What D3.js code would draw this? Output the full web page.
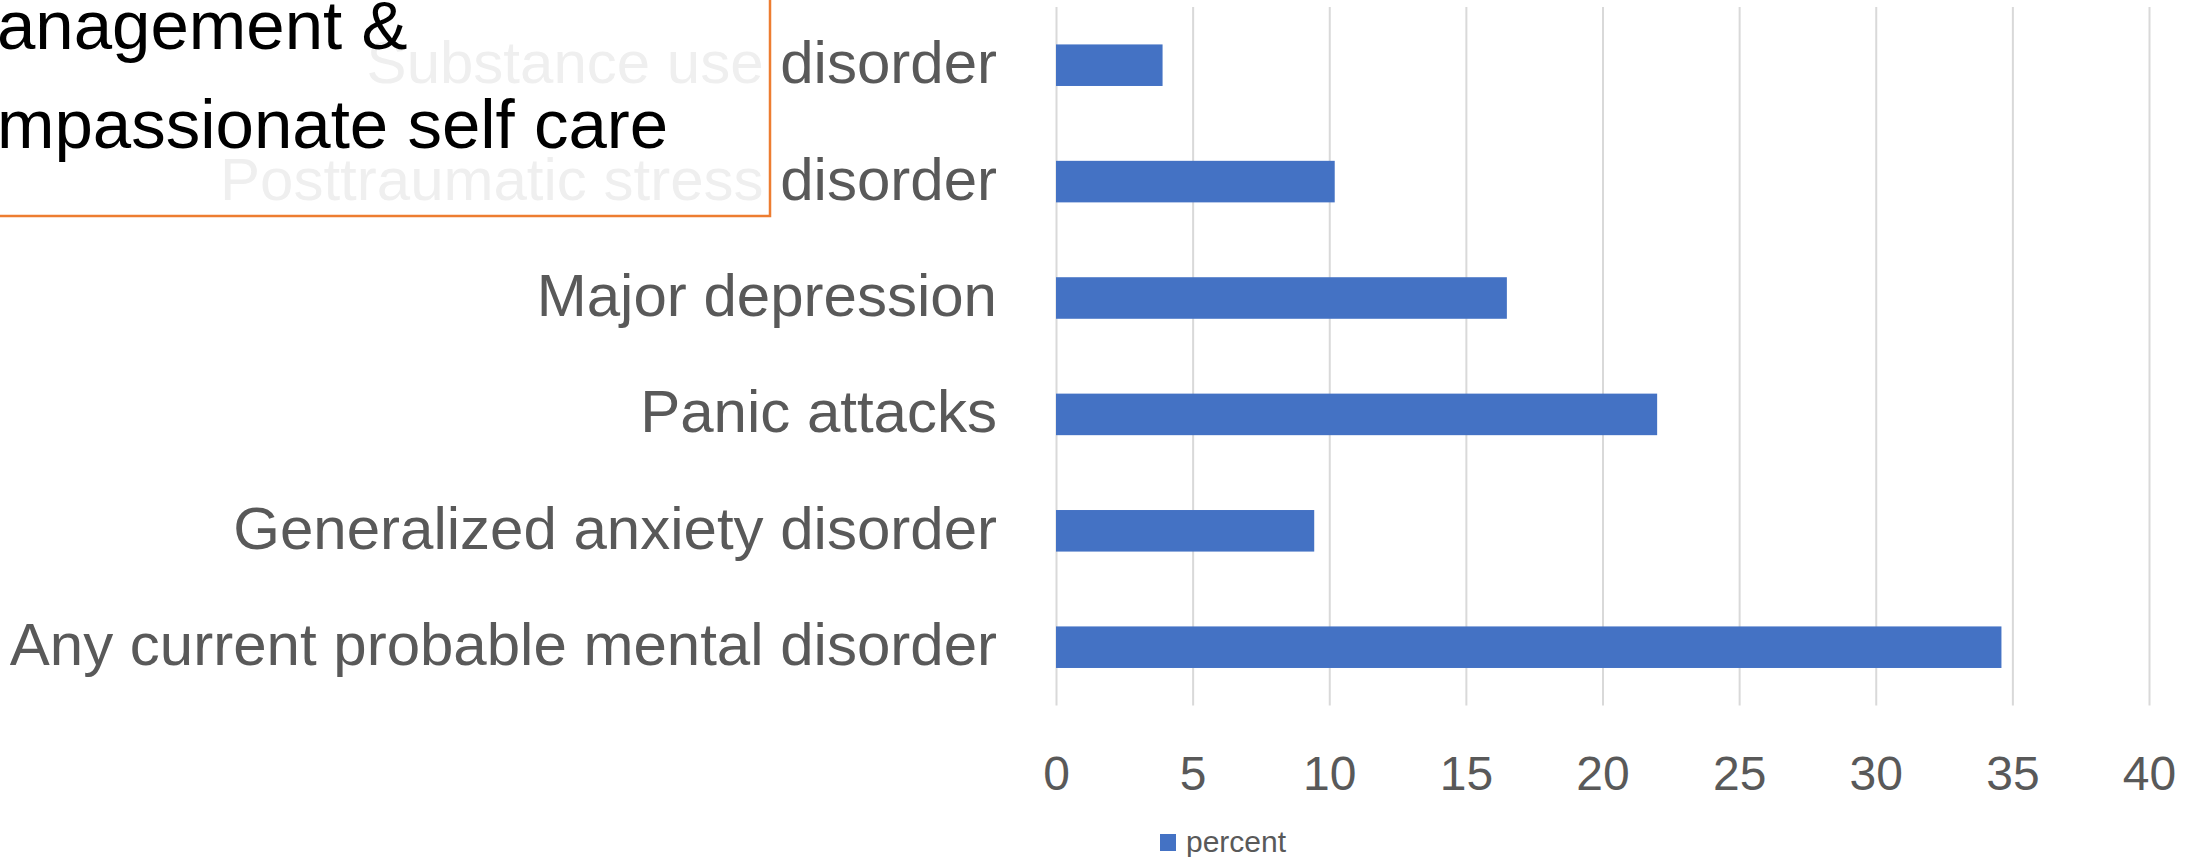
<!DOCTYPE html>
<html>
<head>
<meta charset="utf-8">
<script src="https://cdn.jsdelivr.net/npm/d3@7"></script>
<style>
  html, body { margin: 0; padding: 0; background: #fff; overflow: hidden; }
  svg { display: block; font-family: "Liberation Sans", Arial, sans-serif; }
</style>
</head>
<body>
<svg id="chart"></svg>
<script>
// data, top row first
const categories = [
    "Substance use disorder",
    "Posttraumatic stress disorder",
    "Major depression",
    "Panic attacks",
    "Generalized anxiety disorder",
    "Any current probable mental disorder"
];
const percentValues = [3.9, 10.2, 16.5, 22.0, 9.45, 34.6];
const xTicks = [0, 5, 10, 15, 20, 25, 30, 35, 40];
const seriesName = "percent";
const titleLines = ["anagement &", "mpassionate self care"];

const width = 2192;
const height = 857;
const plot = {left: 1056, right: 2149, top: 7, bottom: 705.4};

const svg = d3.select("#chart")
    .attr("width", width)
    .attr("height", height);

const x = d3.scaleLinear()
    .domain([0, 40])
    .range([plot.left, plot.right]);

const y = d3.scaleBand()
    .domain(categories)
    .range([plot.top, plot.bottom])
    .paddingInner(0.643)
    .paddingOuter(0.3215);

// vertical gridlines
svg.append("g")
    .attr("class", "grid")
    .attr("transform", `translate(0,${plot.bottom})`)
    .call(d3.axisBottom(x).tickValues(xTicks).tickSize(-(plot.bottom - plot.top)).tickFormat(""))
    .call(g => g.select(".domain").remove())
    .call(g => g.selectAll("line").attr("stroke", "#d9d9d9").attr("stroke-width", 2));

// x tick labels
svg.append("g")
    .attr("transform", `translate(0,${plot.bottom})`)
    .call(d3.axisBottom(x).tickValues(xTicks).tickSize(0).tickPadding(0))
    .call(g => g.select(".domain").remove())
    .call(g => g.selectAll("text")
        .attr("y", 85)
        .attr("dy", null)
        .attr("fill", "#595959")
        .style("font-size", "48px")
        .style("font-family", "Liberation Sans, Arial, sans-serif"));

// bars
svg.append("g")
    .selectAll("rect")
    .data(categories)
    .enter().append("rect")
    .attr("x", x(0))
    .attr("y", d => y(d))
    .attr("width", (d, i) => x(percentValues[i]) - x(0))
    .attr("height", y.bandwidth())
    .attr("fill", "#4472C4");

// category labels
svg.append("g")
    .selectAll("text")
    .data(categories)
    .enter().append("text")
    .attr("x", 997)
    .attr("y", d => y(d) + y.bandwidth() / 2 + 18)
    .attr("text-anchor", "end")
    .attr("fill", "#595959")
    .style("font-size", "60px")
    .text(d => d);

// legend
const legend = svg.append("g").attr("transform", "translate(1160,834)");
legend.append("rect")
    .attr("width", 16)
    .attr("height", 17)
    .attr("fill", "#4472C4");
legend.append("text")
    .attr("x", 26)
    .attr("y", 18)
    .attr("fill", "#595959")
    .style("font-size", "30px")
    .text(seriesName);

// slide title box laid over the chart
svg.append("rect")
    .attr("x", -10)
    .attr("y", -10)
    .attr("width", 780)
    .attr("height", 226)
    .attr("fill", "#ffffff")
    .attr("fill-opacity", 0.9)
    .attr("stroke", "#ED7D31")
    .attr("stroke-width", 2.5);

svg.append("g")
    .selectAll("text")
    .data(titleLines)
    .enter().append("text")
    .attr("x", -3)
    .attr("y", (d, i) => 49 + i * 99)
    .attr("fill", "#000000")
    .style("font-size", "69px")
    .text(d => d);
</script>
</body>
</html>
